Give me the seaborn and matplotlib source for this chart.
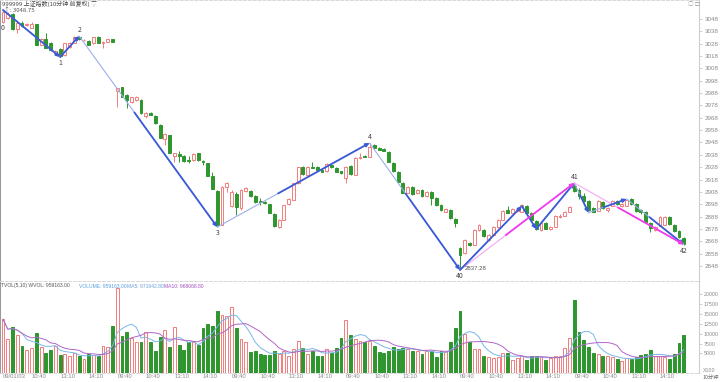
import numpy as np
import pandas as pd
import matplotlib
matplotlib.use("Agg")
import matplotlib.pyplot as plt
import seaborn as sns

# 10分钟K线 (6个交易日, 每日24根)
opens = [3045.6, 3048.8, 3052.1, 3039.9, 3044.8, 3043.2, 3040.7, 3044.0, 3027.0, 3031.8,
         3028.6, 3019.7, 3023.7, 3018.9, 3025.3, 3028.6, 3033.4, 3030.6, 3030.2, 3028.6,
         3033.4, 3028.6, 3029.4, 3031.8,
         2989.7, 2992.9, 2986.4, 2980.8, 2982.4, 2982.4, 2969.4, 2971.9, 2969.4, 2962.2,
         2950.8, 2954.1, 2937.0, 2938.7, 2937.0, 2933.8, 2933.8, 2939.5, 2933.0, 2931.4,
         2920.8, 2908.7, 2881.2, 2911.9,
         2896.5, 2906.3, 2894.9, 2908.7, 2908.7, 2904.6, 2900.6, 2899.8, 2898.2, 2890.1,
         2879.5, 2885.2, 2898.2, 2901.4, 2915.2, 2928.1, 2921.6, 2928.1, 2928.1, 2925.7,
         2924.9, 2929.8, 2927.3, 2924.5,
         2919.2, 2928.9, 2921.6, 2935.4, 2937.0, 2936.2, 2945.9, 2943.5, 2942.7, 2940.3,
         2931.4, 2924.1, 2915.2, 2907.1, 2911.9, 2907.1, 2909.5, 2904.6, 2907.9, 2903.0,
         2897.4, 2891.7, 2893.3, 2886.0,
         2862.5, 2858.5, 2866.6, 2865.0, 2877.1, 2877.1, 2869.0, 2873.1, 2879.5, 2885.2,
         2893.3, 2890.9, 2892.5, 2891.7, 2896.5, 2890.9, 2884.4, 2877.1, 2882.8, 2877.9,
         2879.5, 2887.6, 2888.4, 2891.7,
         2912.8, 2909.5, 2904.6, 2900.6, 2894.9, 2892.5, 2899.8, 2893.3, 2896.5, 2900.6,
         2896.5, 2896.5, 2902.2, 2898.2, 2893.3, 2891.7, 2882.8, 2877.1, 2880.3, 2881.2,
         2887.6, 2881.2, 2876.3, 2870.6]
closes = [3053.7, 3052.1, 3039.9, 3044.8, 3042.3, 3044.0, 3044.0, 3027.0, 3031.8, 3024.5,
          3022.9, 3022.1, 3018.0, 3028.6, 3028.6, 3033.4, 3031.8, 3031.0, 3027.0, 3033.4,
          3028.6, 3029.4, 3031.8, 3029.4,
          2992.1, 2984.8, 2982.4, 2984.8, 2984.8, 2971.9, 2971.9, 2970.6, 2963.8, 2951.6,
          2954.9, 2939.5, 2939.5, 2937.4, 2933.0, 2933.0, 2938.7, 2933.8, 2932.2, 2920.8,
          2910.3, 2881.2, 2911.9, 2915.2,
          2907.9, 2895.7, 2909.5, 2911.1, 2904.6, 2899.8, 2899.8, 2899.0, 2890.9, 2880.3,
          2885.2, 2897.4, 2902.2, 2915.2, 2928.1, 2922.5, 2928.1, 2927.3, 2925.7, 2924.1,
          2930.6, 2928.1, 2924.1, 2922.9,
          2928.1, 2922.5, 2935.4, 2936.2, 2936.6, 2944.3, 2943.5, 2942.3, 2941.1, 2932.2,
          2924.9, 2916.0, 2907.1, 2911.9, 2906.3, 2909.5, 2904.6, 2907.9, 2903.0, 2897.4,
          2893.3, 2894.1, 2886.8, 2882.8,
          2856.9, 2869.0, 2865.0, 2877.1, 2881.2, 2872.2, 2873.1, 2879.5, 2885.2, 2892.5,
          2890.9, 2894.1, 2894.1, 2897.4, 2890.9, 2885.2, 2877.9, 2882.8, 2877.9, 2879.5,
          2888.4, 2888.4, 2891.7, 2895.7,
          2908.7, 2904.6, 2900.6, 2893.3, 2891.7, 2900.6, 2894.9, 2894.9, 2900.6, 2898.2,
          2898.2, 2901.4, 2898.2, 2892.5, 2891.7, 2883.6, 2878.7, 2879.5, 2887.6, 2887.6,
          2882.0, 2876.3, 2871.4, 2865.4]
highs = [3055.3, 3053.7, 3052.9, 3045.6, 3046.4, 3044.8, 3045.6, 3044.0, 3032.6, 3036.7,
         3029.4, 3022.9, 3024.5, 3028.6, 3029.4, 3034.2, 3034.2, 3031.8, 3031.0, 3033.4,
         3034.2, 3030.2, 3031.8, 3031.8,
         2992.1, 2992.9, 2987.3, 2984.8, 2985.6, 2983.2, 2972.7, 2972.7, 2970.2, 2963.0,
         2955.7, 2954.1, 2939.5, 2941.1, 2937.9, 2937.0, 2939.5, 2939.5, 2933.8, 2931.4,
         2924.1, 2909.5, 2912.8, 2916.0,
         2909.5, 2907.9, 2910.3, 2911.9, 2909.5, 2905.4, 2903.0, 2900.6, 2898.2, 2890.9,
         2886.0, 2897.4, 2903.0, 2915.2, 2928.1, 2928.9, 2928.9, 2932.2, 2928.9, 2927.3,
         2931.4, 2930.6, 2928.1, 2924.9,
         2928.9, 2929.8, 2936.2, 2939.5, 2937.9, 2947.6, 2946.8, 2944.3, 2943.5, 2941.1,
         2932.2, 2924.9, 2916.0, 2912.8, 2912.8, 2910.3, 2910.3, 2908.7, 2908.7, 2903.8,
         2898.2, 2894.9, 2894.1, 2886.8,
         2863.3, 2869.8, 2867.4, 2877.9, 2882.0, 2877.9, 2873.9, 2880.3, 2886.0, 2893.3,
         2896.5, 2894.9, 2894.9, 2898.2, 2897.4, 2891.7, 2885.2, 2883.6, 2883.6, 2880.3,
         2889.2, 2890.1, 2892.5, 2896.5,
         2915.2, 2911.1, 2907.1, 2901.4, 2895.7, 2901.4, 2900.6, 2895.7, 2901.4, 2901.4,
         2899.0, 2902.2, 2903.0, 2899.0, 2894.1, 2892.5, 2883.6, 2880.3, 2888.4, 2888.4,
         2888.4, 2882.0, 2877.1, 2871.4]
lows = [3044.8, 3048.0, 3039.1, 3036.7, 3041.5, 3042.3, 3040.7, 3027.0, 3027.0, 3024.5,
        3022.1, 3018.9, 3017.2, 3018.0, 3024.5, 3028.6, 3031.0, 3030.2, 3027.0, 3027.8,
        3028.6, 3024.5, 3029.4, 3029.4,
        2976.7, 2984.8, 2975.9, 2980.0, 2981.6, 2971.1, 2967.8, 2970.2, 2963.0, 2951.6,
        2946.0, 2939.5, 2932.2, 2932.2, 2932.2, 2931.4, 2933.0, 2933.0, 2929.8, 2920.8,
        2910.3, 2879.5, 2881.2, 2907.9,
        2895.7, 2889.2, 2893.3, 2907.9, 2903.8, 2899.0, 2897.4, 2898.2, 2890.9, 2879.5,
        2878.7, 2885.2, 2897.4, 2901.4, 2914.4, 2921.6, 2921.6, 2927.3, 2924.9, 2924.1,
        2924.1, 2927.3, 2924.1, 2922.5,
        2915.2, 2921.6, 2921.6, 2934.6, 2936.2, 2936.2, 2942.7, 2941.9, 2941.1, 2932.2,
        2924.1, 2915.2, 2907.1, 2907.1, 2905.4, 2906.3, 2903.8, 2903.8, 2897.4, 2896.5,
        2892.5, 2891.7, 2886.0, 2879.5,
        2844.7, 2857.7, 2864.1, 2865.0, 2876.3, 2871.4, 2868.2, 2872.2, 2878.7, 2885.2,
        2890.9, 2890.9, 2891.7, 2891.7, 2890.1, 2884.4, 2877.1, 2876.3, 2877.9, 2877.1,
        2879.5, 2886.8, 2888.4, 2891.7,
        2907.9, 2902.2, 2899.8, 2892.5, 2891.7, 2892.5, 2894.1, 2891.7, 2896.5, 2897.4,
        2895.7, 2896.5, 2897.4, 2891.7, 2890.1, 2882.8, 2875.5, 2876.3, 2880.3, 2881.2,
        2881.2, 2875.5, 2870.6, 2864.9]
volumes = [13700, 8600, 11600, 9700, 6900, 5800, 6300, 10200, 6500, 5100, 5900, 6900,
           4600, 4800, 4200, 5100, 4200, 3600, 4800, 4600, 4400, 6900, 6700, 12000,
           21500, 9300, 10500, 8800, 8000, 7800, 10500, 7800, 5700, 9100, 11000, 6500,
           11600, 7100, 5900, 7800, 7800, 7100, 11400, 12500, 12000, 15700, 14700, 14600,
           16700, 11400, 8600, 8000, 5400, 5700, 4800, 4600, 4600, 5700, 4800, 5700,
           4400, 6100, 8200, 6300, 4800, 5700, 4400, 4400, 6100, 5100, 6300, 8800,
           13500, 9700, 8600, 8200, 7800, 8200, 6900, 5400, 5100, 5700, 6500, 6100,
           6300, 6100, 5700, 5700, 4800, 5700, 5700, 4000, 5700, 5300, 7800, 11400,
           15800, 9900, 7800, 6100, 6100, 4400, 4000, 3700, 4000, 5100, 5100, 3400,
           3700, 4200, 3400, 4200, 4400, 4000, 3400, 3700, 4200, 4200, 6300, 8800,
           18600, 10500, 8400, 6500, 5100, 4800, 4200, 4200, 4000, 3600, 3100, 3700,
           3600, 4000, 4600, 4800, 5900, 4200, 4200, 4000, 3600, 4800, 7600, 9700]

day_times = ['09:40', '09:50', '10:00', '10:10', '10:20', '10:30', '10:40', '10:50',
             '11:00', '11:10', '11:20', '11:30', '13:10', '13:20', '13:30', '13:40',
             '13:50', '14:00', '14:10', '14:20', '14:30', '14:40', '14:50', '15:00']
first_date = '09/01/03'

# 波段连线 (K线序号, 价格)
zz1_idx = [0, 12, 16, 45, 77, 96]
zz1_px = [3055.3, 3017.2, 3034.2, 2879.5, 2947.6, 2844.7]
zz1_lab = ['0', '1', '2', '3', '4', '40']
zz2_idx = [96, 109, 112, 120, 123, 131, 143]
zz2_px = [2844.7, 2896.5, 2877.9, 2915.2, 2891.1, 2902.2, 2865.4]
zz3_idx = [96, 120, 143]
zz3_px = [2844.7, 2915.2, 2865.4]
zz3_lab = ['40', '41', '42']
low_text = '2837.28'

price_ticks = list(range(2848, 3049, 10))
vol_ticks = [5000, 7500, 10000, 12500, 15000, 17500, 20000]

sns.set_theme(style="white")
plt.rcParams['font.family'] = ['Noto Sans CJK SC', 'DejaVu Sans']

up_col = '#f27c7c'
dn_col = '#2e962e'
grid_col = '#d8d8d8'
lab_col = '#8a8a8a'
num_font = 'Liberation Sans'

df = pd.DataFrame({'open': opens, 'high': highs, 'low': lows,
                   'close': closes, 'vol': volumes})
df['x'] = np.arange(len(df))
df['up'] = df['close'] >= df['open']
df['ma5'] = df['vol'].rolling(5, min_periods=1).mean()
df['ma10'] = df['vol'].rolling(10, min_periods=1).mean()

W, H = 720, 382
fig = plt.figure(figsize=(W / 100, H / 100), dpi=100)
fig.patch.set_facecolor('white')
ax = fig.add_axes([0, 101 / H, 699 / W, 281 / H])
axv = fig.add_axes([0, 9 / H, 699 / W, 92 / H])

xlim = (-0.63, 146.2)
bw = 0.6

# K线 + 成交量柱
for up, col in [(True, up_col), (False, dn_col)]:
    s = df[df['up'] == up]
    ax.vlines(s['x'], s['low'], s['high'], color=col, lw=0.7, zorder=2)
    bottom = np.minimum(s['open'], s['close'])
    height = np.maximum((s['close'] - s['open']).abs(), 0.5)
    ax.bar(s['x'], height, bottom=bottom, width=bw,
           facecolor='white' if up else col, edgecolor=col, lw=0.7, zorder=3)
    axv.bar(s['x'], s['vol'], width=bw, facecolor='white' if up else col,
            edgecolor=col, lw=0.7, zorder=2)


def zigzag(ax, xs, ys, dark, light, solid_first=0):
    sns.lineplot(x=xs, y=ys, sort=False, estimator=None, ax=ax,
                 color=light, lw=0.8, zorder=4)
    for k in range(len(xs) - 1):
        f = 0.0 if k < solid_first else 0.4
        x0 = xs[k] + f * (xs[k + 1] - xs[k])
        y0 = ys[k] + f * (ys[k + 1] - ys[k])
        ax.annotate('', xy=(xs[k + 1], ys[k + 1]), xytext=(x0, y0),
                    arrowprops=dict(arrowstyle='-|>', color=dark, lw=1.3,
                                    mutation_scale=5, shrinkA=0, shrinkB=0),
                    zorder=5)


zigzag(ax, zz1_idx, zz1_px, '#3b5bd6', '#9db0ee', solid_first=2)
zigzag(ax, zz2_idx, zz2_px, '#3b5bd6', '#9db0ee', solid_first=3)
zigzag(ax, zz3_idx, zz3_px, '#f03cf0', '#f5a6f5')

# 波段编号
for i, p, t in zip(zz1_idx, zz1_px, zz1_lab):
    is_high = t in ('2', '4')
    dy = 4.5 if is_high else -4.5
    if t == '0':
        dy = -13
    ax.annotate(t, (i, p), xytext=(0, dy), textcoords='offset points',
                ha='center', va='center', fontsize=5, color='#444', zorder=6)
for i, p, t in zip(zz3_idx[1:], zz3_px[1:], zz3_lab[1:]):
    dy = 4 if t == '41' else -5
    ax.annotate(t, (i, p), xytext=(0, dy), textcoords='offset points',
                ha='center', va='center', fontsize=5, color='#444', zorder=6)
ax.annotate(low_text, (zz1_idx[-1], zz1_px[-1]), xytext=(3, 1), textcoords='offset points',
            ha='left', va='center', fontsize=4.3, color='#555', zorder=6,
            family=num_font)

# 成交量均线
sns.lineplot(data=df, x='x', y='ma5', ax=axv, color='#7ab6ea', lw=0.7, zorder=3)
sns.lineplot(data=df, x='x', y='ma10', ax=axv, color='#b066c8', lw=0.7, zorder=3)

# 坐标轴
ax.set_xlim(*xlim)
ax.set_ylim(2835.8, 3063.4)
ax.yaxis.tick_right()
ax.set_yticks(price_ticks)
ax.set_yticklabels([str(v) for v in price_ticks], family=num_font)
ax.set_xticks([])
ax.set_xlabel('')
ax.set_ylabel('')

axv.set_xlim(*xlim)
axv.set_ylim(0, 23400)
axv.yaxis.tick_right()
axv.set_yticks(vol_ticks)
axv.set_yticklabels([str(v) for v in vol_ticks], family=num_font)
tick_pos = list(range(0, len(df), 6))
tick_lab = [day_times[i % 24] for i in tick_pos]
tick_lab[0] = first_date
axv.set_xticks(tick_pos)
axv.set_xticklabels(tick_lab, ha='left', family=num_font)
axv.set_xlabel('')
axv.set_ylabel('')

for a in (ax, axv):
    a.set_facecolor('white')
    a.tick_params(axis='y', right=True, length=2, width=0.5, color='#bbbbbb',
                  labelsize=4.5, labelcolor=lab_col, pad=2)
    a.spines['left'].set_color('#9a9a9a')
    a.spines['left'].set_linewidth(1.5)
    a.spines['right'].set_color('#cfcfcf')
    a.spines['right'].set_linewidth(0.8)
    a.spines['top'].set_color(grid_col)
    a.spines['top'].set_linestyle((0, (3, 2)))
    a.spines['top'].set_linewidth(0.7)
axv.tick_params(axis='y', labelsize=3.8, pad=1.2)
ax.spines['bottom'].set_visible(False)
axv.spines['bottom'].set_color(grid_col)
axv.spines['bottom'].set_linestyle((0, (3, 2)))
axv.spines['bottom'].set_linewidth(0.7)
axv.tick_params(axis='x', bottom=True, length=0, labelsize=4.2,
                labelcolor=lab_col, pad=0.8)

# 文字
fig.text(2 / W, 1 - 4 / H, '999999 上证指数(10分钟 前复权) ▽', fontsize=4.3,
         color='#444', va='center', ha='left')
fig.text(4 / W, 1 - 10 / H, '↑: 3048.75', fontsize=4.3, color='#555',
         va='center', ha='left')
fig.text(688 / W, 1 - 4 / H, '○ □', fontsize=4, color='#999', va='center')

hy = 1 - 286 / H
fig.text(1 / W, hy, 'TVOL(5,10) WVOL: 959163.00', fontsize=3.6, color='#555',
         va='center', family=num_font)
fig.text(79 / W, hy, 'VOLUME: 959163.00', fontsize=3.6, color='#5aa0e0',
         va='center', family=num_font)
fig.text(127 / W, hy, 'MA5: 971642.80', fontsize=3.6, color='#6a9fd8',
         va='center', family=num_font)
fig.text(164 / W, hy, 'MA10: 968068.80', fontsize=3.6, color='#a050c0',
         va='center', family=num_font)

fig.text(703 / W, 1 - 370 / H, 'X100', fontsize=3.8, color='#888', va='center',
         family=num_font)
fig.text(702 / W, 1 - 377 / H, '10分钟', fontsize=3.8, color='#666', va='center')

fig.savefig('out.png', dpi=100, facecolor='white')
